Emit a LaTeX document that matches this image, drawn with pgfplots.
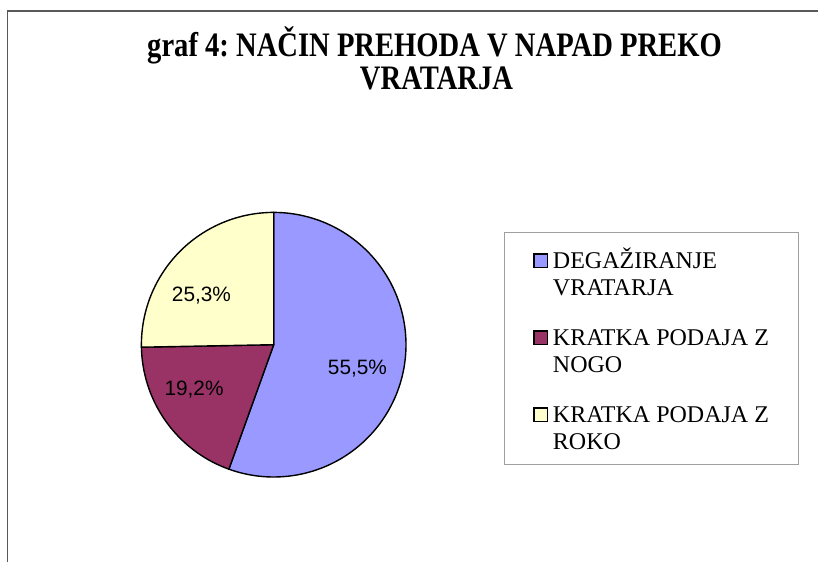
\documentclass[border=0pt]{standalone}
\usepackage{fontspec}
\setmainfont{Liberation Serif}
\newfontfamily\arialfont{Liberation Sans}
\usepackage{graphicx}
\usepackage{pgfplots}
\usepackage{pgfplotstable}
\pgfplotsset{compat=1.18}
\definecolor{cBlue}{HTML}{9999FF}
\definecolor{cMaroon}{HTML}{993366}
\definecolor{cYellow}{HTML}{FFFFCC}
\definecolor{frameGray}{HTML}{595959}

\pgfplotstableread{
label value
DEGAZIRANJE 55.5
NOGO 19.2
ROKO 25.3
}\piedata

\newcommand\legtab[1]{\begin{tabular}[t]{@{}l@{}}#1\end{tabular}}

\begin{document}
\frenchspacing
\begin{tikzpicture}
\pgfplotstablegetelem{0}{value}\of\piedata \let\va\pgfplotsretval
\pgfplotstablegetelem{1}{value}\of\piedata \let\vb\pgfplotsretval
\pgfplotstablegetelem{2}{value}\of\piedata \let\vc\pgfplotsretval
\pgfmathsetmacro\aA{90-3.6*\va}
\pgfmathsetmacro\aB{\aA-3.6*\vb}
\pgfmathsetmacro\aC{\aB-3.6*\vc}

\draw[frameGray, line width=1.1pt] (7.5pt,0pt) -- (7.5pt,551pt) -- (818pt,551pt);

\node[anchor=base, font=\bfseries\fontsize{28.6}{33}\selectfont] at (434.5pt,505pt)
  {\scalebox{1}[1.2]{graf 4: NAČIN PREHODA V NAPAD PREKO}};
\node[anchor=base, font=\bfseries\fontsize{28.6}{33}\selectfont] at (436.5pt,472pt)
  {\scalebox{1}[1.2]{VRATARJA}};

\begin{axis}[
  at={(141.4pt,85pt)}, anchor=south west,
  scale only axis, width=264.6pt, height=264.6pt,
  xmin=-1, xmax=1, ymin=-1, ymax=1,
  hide axis, clip=false,
  legend style={
    at={(1.3704,0.9259)}, anchor=north west,
    draw=gray!75, line width=0.9pt,
    inner xsep=29pt, inner ysep=12pt,
    row sep=28pt, column sep=4.5pt,
    font=\fontsize{24}{27}\selectfont,
    cells={anchor=base west},
    nodes={inner sep=0pt, text depth=30pt},
  },
  legend image code/.code={
    \draw[#1, draw=black, line width=1.5pt, line join=miter] (0.75pt,0.75pt) rectangle (14.25pt,14.25pt);
  },
]
\addplot[fill=cBlue, draw=black, line width=1.4pt, line join=round,
  domain=\aA:90, samples=120, variable=\t]
  ({cos(\t)},{sin(\t)}) -- (0,0) -- cycle;
\addlegendentry{\rule{0pt}{24pt}\legtab{DEGAŽIRANJE\\VRATARJA}}
\addplot[fill=cMaroon, draw=black, line width=1.4pt, line join=round,
  domain=\aB:\aA, samples=60, variable=\t]
  ({cos(\t)},{sin(\t)}) -- (0,0) -- cycle;
\addlegendentry{\legtab{KRATKA PODAJA Z\\NOGO}}
\addplot[fill=cYellow, draw=black, line width=1.4pt, line join=round,
  domain=\aC:\aB, samples=60, variable=\t]
  ({cos(\t)},{sin(\t)}) -- (0,0) -- cycle;
\addlegendentry{\legtab{KRATKA PODAJA Z\\ROKO}}

\node[anchor=base, font=\arialfont\fontsize{20.8}{24}\selectfont] at (axis cs:0.633,-0.223)
  {\pgfmathprintnumber[fixed, fixed zerofill, precision=1, use comma, assume math mode=true]{\va}\%};
\node[anchor=base, font=\arialfont\fontsize{20.8}{24}\selectfont] at (axis cs:-0.602,-0.382)
  {\pgfmathprintnumber[fixed, fixed zerofill, precision=1, use comma, assume math mode=true]{\vb}\%};
\node[anchor=base, font=\arialfont\fontsize{20.8}{24}\selectfont] at (axis cs:-0.546,0.329)
  {\pgfmathprintnumber[fixed, fixed zerofill, precision=1, use comma, assume math mode=true]{\vc}\%};
\end{axis}

\pgfresetboundingbox
\path (0pt,0pt) rectangle (818pt,562pt);
\end{tikzpicture}
\end{document}
